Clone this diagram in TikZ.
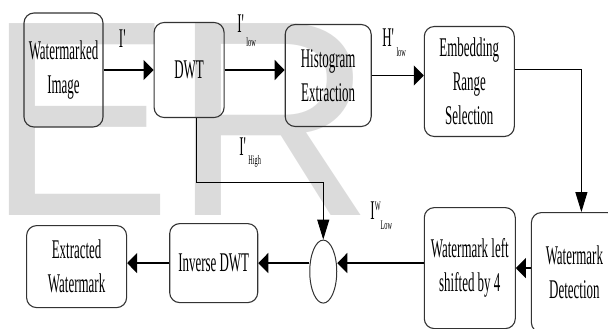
\documentclass[tikz,border=0pt]{standalone}
\usepackage{fontspec}
\newfontfamily\narrowserif[FakeStretch=0.48]{Liberation Serif}
\newfontfamily\markfont{Liberation Sans}
\usetikzlibrary{arrows.meta,calc,positioning,shapes.geometric}
\definecolor{markgray}{gray}{0.86}
\newcommand{\lowpart}[2]{\raisebox{-#1}{\fontsize{13}{13}\selectfont #2}}
\tikzset{
    block/.style = {draw=black!80, line width=1.1pt, rectangle,
        rounded corners=10pt, align=center, inner sep=2pt,
        font=\narrowserif\fontsize{27}{34}\selectfont},
    sum/.style = {draw=black!80, line width=1pt, ellipse,
        minimum width=27pt, minimum height=63pt, inner sep=0pt},
    lbl/.style = {inner sep=0pt, font=\narrowserif\fontsize{27}{34}\selectfont},
    hline/.style = {line width=1.3pt, -{Triangle[length=10pt,width=20pt]}},
    vline/.style = {line width=0.9pt, -{Triangle[length=20pt,width=12pt]}},
}

\begin{document}
\begin{tikzpicture}[x=1pt, y=-1pt]
		\useasboundingbox (0,0) rectangle (608,329);
		% background mark
		\node [anchor=base west, inner sep=0pt, text=markgray,
		       font=\markfont\fontsize{279}{279}\selectfont] (mark) at (-13.6,215) {ER};
		
		% watermarked image
		\node [block, minimum width=79pt, minimum height=114pt] (wimg) at (63.5,70) {Watermarked\\Image};
		% DWT
		\node [block, right=50pt of wimg, minimum width=70pt, minimum height=95pt] (dwt) {DWT};
		% histogram
		\node [block, right=60pt of dwt, yshift=-5.5pt, minimum width=86pt, minimum height=102pt] (hist) {Histogram\\Extraction};
		% embedding range
		\node [block, right=52pt of hist, yshift=-6pt, minimum width=90pt, minimum height=110pt] (embed) {Embedding\\Range\\Selection};
		
		% detection
		\node [block, below right=75pt and 16pt of embed.south east, anchor=north west, minimum width=86pt, minimum height=120pt] (detect) {Watermark\\Detection};
		% left shift
		\node [block, left=15pt of detect, yshift=4.5pt, minimum width=91pt, minimum height=121pt] (shifted) {Watermark left\\shifted by 4};
		% sum
		\node [sum, left=86.5pt of shifted, yshift=-3.5pt] (sum) {};
		\coordinate [above=57pt of sum.north] (hknee);
		% inverse DWT
		\node [block, left=51pt of sum, yshift=8.5pt, minimum width=88pt, minimum height=79pt] (inv) {Inverse DWT};
		% extracted
		\node [block, left=42pt of inv, yshift=-3.5pt, minimum width=100pt, minimum height=82pt] (extr) {Extracted\\Watermark};
		
		% labels
		\node [lbl, anchor=base west] (ihigh) at ($(dwt.south)+(50,37)$) {I\textquotesingle\lowpart{9pt}{High}};
		\node [lbl, anchor=base west] (iwlow) at ($(sum.north)+(47,-20)$) {I\raisebox{9pt}{\fontsize{13}{13}\selectfont W}\lowpart{10pt}{Low}};
		
		% connecting lines
		\draw [hline] (wimg.east) -- node [lbl, pos=0.4, above=22pt, anchor=base] {I\textquotesingle} (wimg.east -| dwt.west);
		\draw [hline] (dwt.east) -- node [lbl, pos=0.2, above=37pt, anchor=base west] {I\textquotesingle\lowpart{14pt}{low}} (dwt.east -| hist.west);
		\draw [hline] (hist.east) -- node [lbl, pos=0.19, above=29pt, anchor=base west] {H\textquotesingle\lowpart{10pt}{low}} (hist.east -| embed.west);
		\draw [vline] ([yshift=12pt]embed.east) -| ([xshift=7pt]detect.north);
		\draw [hline] (detect.west |- shifted.east) -- (shifted.east);
		\draw [hline] (shifted.west |- inv.east) -- (sum.east |- inv.east);
		\draw [hline] (sum.west |- inv.east) -- (inv.east);
		\draw [hline] (inv.west) -- (inv.west -| extr.east);
		\draw [vline] ([xshift=7pt]dwt.south) |- (hknee) -- (sum.north);
	\end{tikzpicture}
\end{document}
